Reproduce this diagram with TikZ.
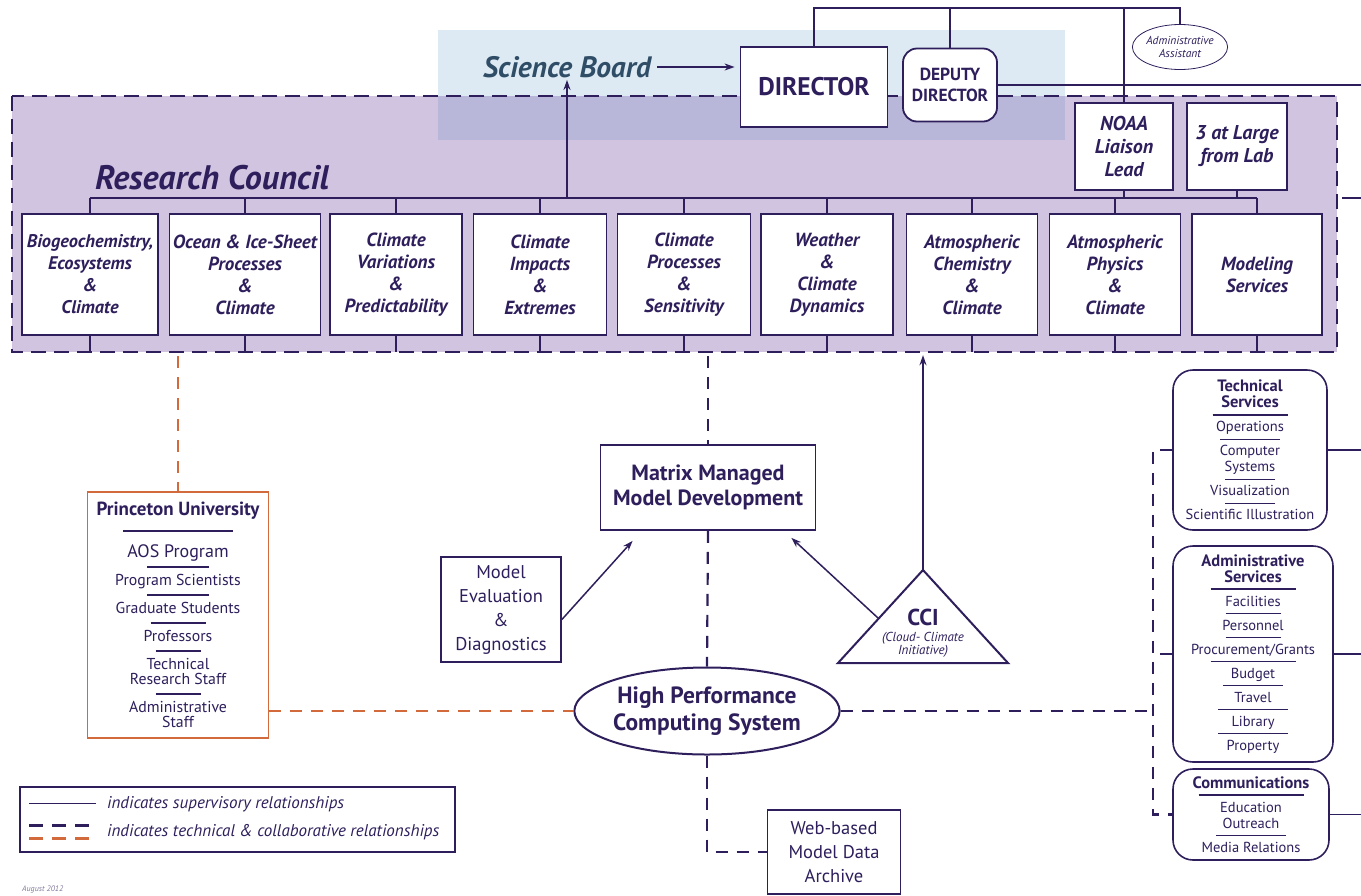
\documentclass[tikz,border=0pt]{standalone}
\usepackage{fontspec}
\setmainfont{PT Sans}
\usetikzlibrary{shapes.geometric,arrows.meta}

\definecolor{ink}{HTML}{2E1F5C}
\definecolor{boardblue}{HTML}{2F4D66}
\definecolor{lavender}{HTML}{D0C4E0}
\definecolor{skyblue}{HTML}{DDEAF3}
\definecolor{overlap}{HTML}{B9B7D9}
\definecolor{rust}{HTML}{D26A3C}

\newcommand\sepline[1]{\\[-4pt]\rule[4pt]{#1}{1.2pt}\\[-4pt]}
\newcommand\hdrule[1]{\\[-4pt]\rule[4pt]{#1}{2pt}\\[-4pt]}
\newcommand\svchead[1]{{\bfseries\fontsize{16.5}{17}\selectfont #1}}

\begin{document}
\begin{tikzpicture}[x=1pt, y=-1pt,
            every node/.style={text=ink, inner sep=0pt},
            sup/.style={draw=ink, line width=1.5pt},
            tip/.style={-{Stealth[length=10pt,width=7pt]}},
            techlink/.style={draw=ink, line width=2.2pt, dash pattern=on 12pt off 9pt},
            rustlink/.style={draw=rust, line width=2.2pt, dash pattern=on 12pt off 9pt},
            unit/.style={draw=ink, fill=white, line width=1.6pt, minimum height=121,
                align=center, font=\fontsize{19}{22}\selectfont\bfseries\itshape},
            head/.style={draw=ink, fill=white, line width=1.8pt, align=center},
            plainbox/.style={draw=ink, fill=white, line width=1.8pt, align=center,
                font=\fontsize{18.5}{24}\selectfont},
            svc/.style={draw=ink, fill=white, line width=1.6pt, rounded corners=20pt,
                align=center, font=\fontsize{14.5}{16}\selectfont},
            ]
            \useasboundingbox (0,0) rectangle (1361,895);

            % backgrounds
            \fill[skyblue] (438,30) rectangle (1065,140);
            \node[fill=lavender, minimum width=1325, minimum height=256] (council) at (674.5,224) {};
            \fill[overlap] (438,96) rectangle (1065,140);
            \draw[draw=ink, line width=2pt, dash pattern=on 15pt off 8pt]
                (council.north west) rectangle (council.south east);

            \coordinate (ridge) at (0,8);
            \coordinate (bus) at (0,198);
            \coordinate (rim) at (1361,0);
            \coordinate (stubR) at (1342,198);
            \coordinate (trunk) at (1153,0);

            % top of the lab
            \node[font=\fontsize{29.5}{32}\selectfont\bfseries\itshape, text=boardblue] (board) at (567,67) {Science Board};
            \node[head, minimum width=147, minimum height=80, font=\fontsize{25.5}{28}\selectfont\bfseries] (dir) at (814,87) {DIRECTOR};
            \node[head, rounded corners=14pt, minimum width=94, minimum height=73,
                font=\fontsize{17.5}{21}\selectfont\bfseries] (deputy) at (950,85) {DEPUTY\\DIRECTOR};
            \node[draw=ink, fill=white, line width=0.8pt, ellipse, minimum width=86, minimum height=45, align=center,
                font=\fontsize{11.5}{13}\selectfont\itshape] (asst) at (1180,47) {Administrative\\Assistant};
            \node[head, line width=1.4pt, minimum width=98, minimum height=87,
                font=\fontsize{20}{23}\selectfont\bfseries\itshape] (noaa) at (1124,146.5) {NOAA\\Liaison\\Lead};
            \node[head, line width=1.4pt, minimum width=100, minimum height=87,
                font=\fontsize{20}{23}\selectfont\bfseries\itshape] (large) at (1237,146.5) {3 at Large\\from Lab};
            \node[font=\fontsize{34}{38}\selectfont\bfseries\itshape] (rclabel) at (212,178) {Research Council};

            % research divisions
            \node[unit, minimum width=136, font=\fontsize{18.3}{22}\selectfont\bfseries\itshape] (bio) at (90,274.5) {Biogeochemistry,\\Ecosystems\\\&\\Climate};
            \node[unit, minimum width=151] (ocean) at (245,274.5) {Ocean \& Ice-Sheet\\Processes\\\&\\Climate};
            \node[unit, minimum width=132] (variab) at (396,274.5) {Climate\\Variations\\\&\\Predictability};
            \node[unit, minimum width=133] (impacts) at (540,274.5) {Climate\\Impacts\\\&\\Extremes};
            \node[unit, minimum width=133] (process) at (684,274.5) {Climate\\Processes\\\&\\Sensitivity};
            \node[unit, minimum width=132] (weather) at (827,274.5) {Weather\\\&\\Climate\\Dynamics};
            \node[unit, minimum width=131] (chem) at (972,274.5) {Atmospheric\\Chemistry\\\&\\Climate};
            \node[unit, minimum width=131] (physics) at (1115,274.5) {Atmospheric\\Physics\\\&\\Climate};
            \node[unit, minimum width=130] (modsvc) at (1257,274.5) {Modeling\\Services};

            % middle part
            \node[draw=rust, fill=white, line width=1.6pt, minimum width=181, minimum height=246, align=center,
                font=\fontsize{15.8}{18}\selectfont] (prince) at (178,615) {%
                {\bfseries\fontsize{19}{18}\selectfont Princeton University}\\[2pt]\rule[4pt]{110pt}{1.8pt}\\[4pt]
                {\fontsize{18}{18}\selectfont AOS Program}\sepline{62pt}
                Program Scientists\sepline{62pt}
                Graduate Students\sepline{55pt}
                Professors\sepline{45pt}
                Technical\\[-3pt]Research Staff\sepline{45pt}
                Administrative\\[-3pt]Staff};
            \node[head, minimum width=215, minimum height=85,
                font=\fontsize{22}{25}\selectfont\bfseries] (matrix) at (708,487.5) {Matrix Managed\\Model Development};
            \node[plainbox, minimum width=120, minimum height=105] (eval) at (501,609.5) {Model\\Evaluation\\\&\\Diagnostics};
            \coordinate (cciTop) at (923,570);
            \coordinate (cciSide) at (878,618);
            \draw[draw=ink, fill=white, line width=2pt, line join=miter] (cciTop) -- (1008,663) -- (838,663) -- cycle;
            \node[align=center, font=\fontsize{23}{23}\selectfont\bfseries] (cci) at (923,617) {CCI};
            \node[align=center, font=\fontsize{13}{13}\selectfont\itshape] (cciname) at (923,645) {(Cloud- Climate\\Initiative)};
            \node[draw=ink, fill=white, line width=2pt, ellipse, minimum width=258, minimum height=87, align=center,
                font=\fontsize{23.5}{27}\selectfont\bfseries] (hpc) at (707,711) {High Performance\\Computing System};
            \node[plainbox, minimum width=133, minimum height=84] (web) at (834,852) {Web-based\\Model Data\\Archive};

            % services on the right
            \node[svc, minimum width=154, minimum height=160] (tech) at (1250,450) {%
                \svchead{Technical}\\\svchead{Services}\hdrule{75pt}
                Operations\sepline{60pt}
                Computer\\Systems\sepline{50pt}
                Visualization\sepline{50pt}
                Scientific Illustration};
            \node[svc, minimum width=160, minimum height=216] (admin) at (1253,654) {%
                \svchead{Administrative}\\\svchead{Services}\hdrule{85pt}
                Facilities\sepline{55pt}
                Personnel\sepline{55pt}
                Procurement/Grants\sepline{85pt}
                Budget\sepline{60pt}
                Travel\sepline{70pt}
                Library\sepline{70pt}
                Property};
            \node[svc, minimum width=156, minimum height=91] (comm) at (1251,814.5) {%
                \svchead{Communications}\hdrule{105pt}
                Education\\Outreach\sepline{70pt}
                Media Relations};

            % legend
            \node[draw=ink, line width=1.2pt, minimum width=435, minimum height=65] (legend) at (237.5,819.5) {};
            \draw[sup] ([xshift=10,yshift=-17]legend.north west) -- ++(67,0);
            \draw[techlink, line width=2.4pt, dash pattern=on 14pt off 9pt] ([xshift=10,yshift=-39]legend.north west) -- ++(67,0);
            \draw[rustlink, line width=2.4pt, dash pattern=on 14pt off 9pt] ([xshift=10,yshift=-52]legend.north west) -- ++(67,0);
            \node[anchor=west, font=\fontsize{17}{18}\selectfont\itshape] (lgsup) at (107,804) {indicates supervisory relationships};
            \node[anchor=west, font=\fontsize{17}{18}\selectfont\itshape] (lgtech) at (107,832) {indicates technical \& collaborative relationships};
            \node[anchor=west, font=\fontsize{8}{9}\selectfont\itshape, text=ink!60] (stamp) at (22,889) {August 2012};

            % supervisory lines
            \draw[sup] (dir.north) |- (ridge -| asst.north) -- (asst.north);
            \draw[sup] (deputy.north) -- (deputy.north |- ridge);
            \draw[sup] (noaa.north) -- (noaa.north |- ridge);
            \draw[sup] (deputy.east) -- (deputy.east -| rim);
            \draw[sup, tip, shorten <=6pt, shorten >=5pt] (board.east) -- (board.east -| dir.west);
            \foreach \u in {bio,ocean,variab,impacts,process,weather,chem,physics,modsvc} {
                \draw[sup] (\u.north) -- (\u.north |- bus);
                \draw[sup] (\u.south) -- (\u.south |- council.south);
            }
            \draw[sup] (bio.north |- bus) -- (modsvc.north |- bus);
            \draw[sup] (noaa.south) -- (noaa.south |- bus);
            \draw[sup] (large.south) -- (large.south |- bus);
            \draw[sup] (stubR) -- (rim |- stubR);
            \draw[sup, tip, shorten >=2pt] (board.south |- bus) -- (board.south);
            \draw[sup, tip, shorten >=3pt] (cciTop) -- (cciTop |- council.south);
            \draw[sup, tip] ([yshift=-10]eval.east) -- ([xshift=33,yshift=-10]matrix.south west);
            \draw[sup, tip] (cciSide) -- ([xshift=-25,yshift=-7]matrix.south east);
            \draw[sup] (tech.east) -- (tech.east -| rim);
            \draw[sup] (admin.east) -- (admin.east -| rim);
            \draw[sup] (comm.east) -- (comm.east -| rim);

            % technical & collaborative lines
            \draw[rustlink] ([yshift=-4]prince.north |- council.south) -- (prince.north);
            \draw[rustlink] (prince.east |- hpc.west) -- (hpc.west);
            \draw[techlink] ([yshift=-4]matrix.north |- council.south) -- (matrix.north);
            \draw[techlink] (matrix.south) -- (hpc.north);
            \draw[techlink] (hpc.south) |- (web.west);
            \draw[techlink] (hpc.east) -- (hpc.east -| trunk);
            \draw[techlink] (tech.west) -| (trunk |- comm.west) -- (comm.west);
            \draw[techlink] (admin.west) -- (admin.west -| trunk);
\end{tikzpicture}
\end{document}
